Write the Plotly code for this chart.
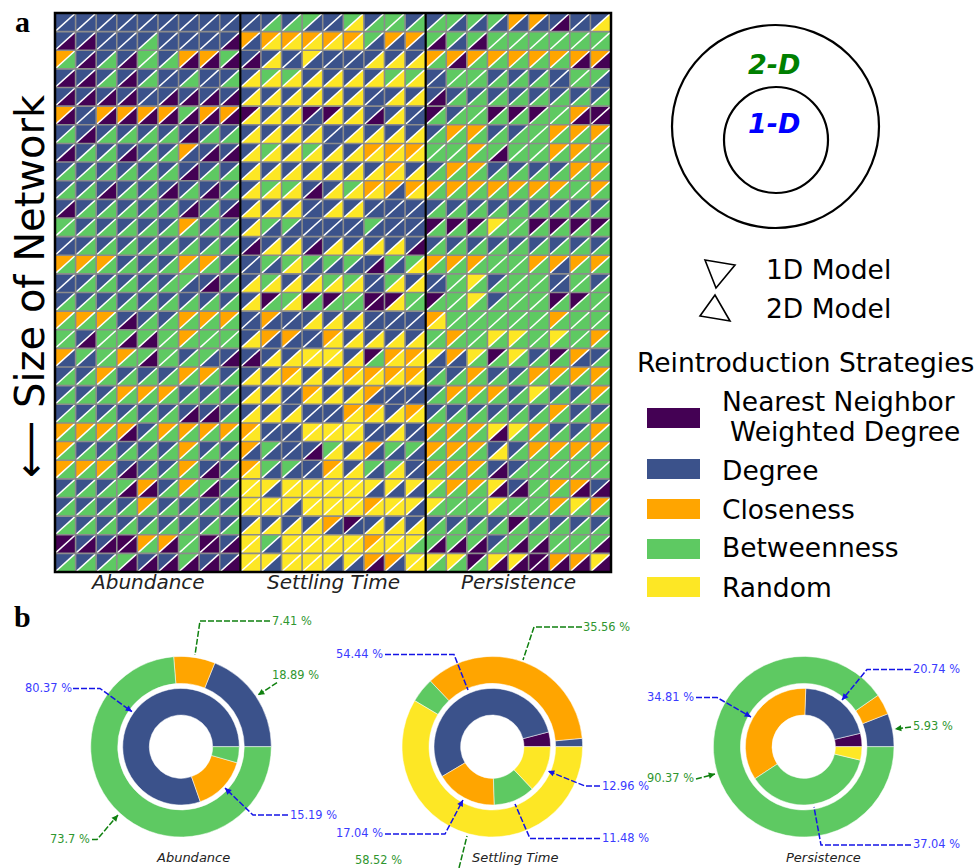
import plotly.graph_objects as go

W, H = 976, 868

# Strategy codes: N nearest neighbour weighted degree, D degree, C closeness, B betweenness, R random
strategy_names = ["Nearest Neighbor<br> Weighted Degree", "Degree", "Closeness", "Betweenness", "Random"]
strategy_codes = ["N", "D", "C", "B", "R"]
strategy_colors = {"N": "#440154", "D": "#3b528b", "C": "#ffa500", "B": "#5ec962", "R": "#fde725"}
panel_names = ["Abundance", "Settling Time", "Persistence"]

# Upper-left triangles (1D model), one string per network row, nine columns
abundance_1d = [
    "DDDDDDDDD", "DDDDDDDDD", "CDDDBDCCB", "DDDDDDDDD", "DDDDDDDDD", "CDCCCCBCC",
    "DDDDDDDDD", "DDDDDDCDD", "DDDDDDDDD", "DDDDDDDDD", "DDDDDDDDD", "BDDDDDCDD",
    "DDDDDDDDD", "CCCDDDCCD", "DDDDDDBDD", "DDDDDDDDD", "CCCDDDCCC", "BDBBBBCBB",
    "CBBCBBDBD", "DDCDDDCCD", "DDDCCCDDD", "DDDDDDDDD", "CCCCDCCCC", "CDDDDDCDD",
    "CCCDDDCDD", "DDDBCDCBD", "DDDDCDDDD", "DDDDDDDDD", "NDDNCCBND", "DDDBDDBDD",
]
# Lower-right triangles (2D model)
abundance_2d = [
    "DDDDDDDDD", "NNDDBDDDN", "BNBNBBNNN", "NNBNBDBDB", "NNNNDNNNN", "NDNNNNNNN",
    "BNBBBBNBB", "NBBNBBDNN", "BBBBBBNBB", "BBNBBNBNB", "NBBBBBNBN", "BBBBBBBBB",
    "DBBBBBBBB", "BBBBBBBBB", "DBBBBBDNB", "BBBBBBBBB", "BBBNBBBBB", "BNBNNBBBB",
    "DDBBNBBDN", "BBBBBBBBB", "BBBBBBBBB", "BBBBBBNNB", "BBBNBBBBB", "BBBBBBBBB",
    "BBBNBBBNB", "BBBNNBBNB", "BBBBBBBBB", "BBBBBBBBB", "NNNNBNBNN", "BBBNNNNNN",
]
settling_1d = [
    "DDDBDBDBD", "CCCCCCBCC", "DDDRDDDDD", "DBBDDDDBB", "DDDDDDDDD", "NDDNNDDDD",
    "DDDDDDDDD", "DBDBDDCCC", "DDDDDDDCD", "DBBDDBCCC", "DDDDDDDDD", "DBBDDDBDD",
    "DDDDDDDDD", "DBBBBBDBB", "DBDDBBDBD", "DNBNNBNNB", "DCDDDDDDD", "DCCDCDDDD",
    "DDDRRDNCC", "DDCDDCCCC", "DDDCDDCDD", "DDDDDCCDC", "CDDRRRDDD", "CBDDBDCBB",
    "CBBDCDBBD", "RRRRRRRRR", "RRRRRRCRR", "DDDDCNDDD", "RBRRRRCRR", "RRRRRRCCR",
]
settling_2d = [
    "DBBDDRBBB", "DRRRRRDDD", "NRDDDDRRR", "RRRRRRRRR", "RRRRRRDRR", "RRRDRRNRD",
    "RRRRDRRRR", "RRRRRRRRR", "RRRRRRRRR", "RRRNRRRDR", "RRRDRRDDD", "RDDDDDDDD",
    "NRRNRRRRN", "DDRDDDNDR", "RRRRRRDRR", "RBRBBBNRB", "DDDRRRDDD", "RDDDRRRRR",
    "NRRRRRBRR", "RRRRRRRRR", "RRDRRRDDD", "RRRDDRRRR", "RDDRRRDRD", "DDDNRRDDD",
    "RDDDRRDRD", "RDRRRRDDD", "RRDRRRRRD", "RRRRDDRRR", "RDRRRRRRB", "RDRRDDNDR",
]
persistence_1d = [
    "DBBBCCDDD", "BBBBBBBBB", "CCCCCCCCC", "DBBDDDDBB", "DDDDDDDDD", "NDBNNNBCN",
    "DCCDDBCCC", "BBCBBBCCB", "DCCDDDDCC", "CCCCCCCBC", "DDDDDDDDD", "NNNRBNNNN",
    "DDDDDDDDD", "CCCBBCCCC", "DBRDBBDBD", "NBRDBBNNB", "CBBBBBCBB", "BCBRRBRBC",
    "RCRNRDNCD", "DDCDDCCCC", "DCCCDRDDC", "DDDDDDCDD", "CCCRRCDDC", "CCCDDCCCC",
    "CCCDDBBBB", "RCCRDBCCD", "RBBRBBCRC", "DDDDNDDDD", "BBBDBBBBB", "RRNRRNCCR",
]
persistence_2d = [
    "BDDDDDNDR", "NDNBBBBBB", "BNBBBBBNN", "DBBBBBDBD", "NBBBBBBBB", "BBBBBBBNN",
    "BBBBBBBBB", "BBBNBBBBB", "BBBBBBBBB", "BBBBBBBBB", "BBBBBBBBB", "BBBBBBBBB",
    "BBBBBBBBB", "BBBBBBDBB", "DBBBBBDBB", "BBBBBBBBB", "RBBBBBBBB", "BBBBBBBBB",
    "DDBBBBBDB", "BBBBBBBBB", "BBBBBBBBB", "BBBBBBBBB", "BBBNBBBBB", "BBBRBBBBB",
    "BBBNBBBBB", "BBBNNBBNN", "BBBBBBBBB", "BBBBBBBBB", "NNNBNNBBN", "BBBNNNNNN",
]

# Doughnut shares, counter-clockwise from the positive x direction
abundance_inner_codes = ["D", "C", "B"]
abundance_inner = [80.37, 15.19, 4.44]
abundance_outer_codes = ["D", "C", "B"]
abundance_outer = [18.89, 7.41, 73.7]
settling_inner_codes = ["N", "D", "C", "B", "R"]
settling_inner = [4.08, 54.44, 17.04, 11.48, 12.96]
settling_outer_codes = ["D", "C", "B", "R"]
settling_outer = [1.48, 35.56, 4.44, 58.52]
persistence_inner_codes = ["N", "D", "C", "B", "R"]
persistence_inner = [3.7, 20.74, 34.81, 37.04, 3.71]
persistence_outer_codes = ["D", "C", "B"]
persistence_outer = [5.93, 3.7, 90.37]

rows_1d = [a + b + c for a, b, c in zip(abundance_1d, settling_1d, persistence_1d)]
rows_2d = [a + b + c for a, b, c in zip(abundance_2d, settling_2d, persistence_2d)]
n_rows, n_cols = len(rows_1d), len(rows_1d[0])


def px(x):
    return x / W


def py(y):
    return 1 - y / H


fig = go.Figure()

# triangles
for code in strategy_codes:
    xs, ys = [], []
    for r in range(n_rows):
        for c in range(n_cols):
            if rows_1d[r][c] == code:
                xs += [c, c + 1, c, c, None]
                ys += [r, r, r + 1, r, None]
            if rows_2d[r][c] == code:
                xs += [c + 1, c + 1, c, c + 1, None]
                ys += [r, r + 1, r + 1, r, None]
    fig.add_trace(go.Scatter(x=xs, y=ys, mode="lines", fill="toself", fillcolor=strategy_colors[code],
                             line=dict(width=0, color=strategy_colors[code]), hoverinfo="skip", showlegend=False))

# diagonals
dx, dy = [], []
for r in range(n_rows):
    for c in range(n_cols):
        dx += [c, c + 1, None]
        dy += [r + 1, r, None]
fig.add_trace(go.Scatter(x=dx, y=dy, mode="lines", line=dict(color="white", width=1.5),
                         hoverinfo="skip", showlegend=False))
# grid
gx, gy = [], []
for c in range(n_cols + 1):
    gx += [c, c, None]
    gy += [0, n_rows, None]
for r in range(n_rows + 1):
    gx += [0, n_cols, None]
    gy += [r, r, None]
fig.add_trace(go.Scatter(x=gx, y=gy, mode="lines", line=dict(color="#8c8c8c", width=1.6),
                         hoverinfo="skip", showlegend=False))
# panel separators
sx, sy = [], []
for c in (9, 18):
    sx += [c, c, None]
    sy += [0, n_rows, None]
fig.add_trace(go.Scatter(x=sx, y=sy, mode="lines", line=dict(color="black", width=2.2),
                         hoverinfo="skip", showlegend=False))

PX0, PX1, PY0, PY1 = 55, 611, 13, 572
shapes = [dict(type="rect", xref="paper", yref="paper", x0=px(PX0), x1=px(PX1), y0=py(PY1), y1=py(PY0),
               line=dict(color="black", width=2.5))]
annotations = []


def text(x, y, s, size, color="black", anchor="center", family="DejaVu Sans", angle=0):
    pad = {"left": -2.5, "right": 2.5, "center": 0}[anchor]
    annotations.append(dict(xref="paper", yref="paper", x=px(x + pad), y=py(y), text=s, showarrow=False,
                            xanchor=anchor, yanchor="middle", textangle=angle, align="left",
                            font=dict(size=size, color=color, family=family)))


def callout(label, side, lx, ly, points, color, txt_color):
    """Dashed leader that ends in an arrowhead at the last point."""
    text(lx, ly, label, 11.4, txt_color, side)
    path = "M " + " L ".join(f"{px(a)} {py(b)}" for a, b in points)
    shapes.append(dict(type="path", xref="paper", yref="paper", path=path,
                       line=dict(color=color, width=1.5, dash="6px,2px")))
    (x0, y0), (x1, y1) = points[-2], points[-1]
    length = max(((x1 - x0) ** 2 + (y1 - y0) ** 2) ** 0.5, 1)
    annotations.append(dict(xref="paper", yref="paper", x=px(x1), y=py(y1), text=" ", showarrow=True,
                            ax=(x0 - x1) / length * 9, ay=(y0 - y1) / length * 9, arrowhead=2,
                            arrowsize=0.9, arrowwidth=1.4, arrowcolor=color))


# doughnuts
R_OUT, R_OUT_IN, R_IN, R_HOLE = 90.3, 63.3, 58.3, 31.7
donuts = [
    (181, 746.7, abundance_inner_codes, abundance_inner, abundance_outer_codes, abundance_outer),
    (492.3, 746.7, settling_inner_codes, settling_inner, settling_outer_codes, settling_outer),
    (803.7, 746.7, persistence_inner_codes, persistence_inner, persistence_outer_codes, persistence_outer),
]
for cx, cy, ic, iv, oc, ov in donuts:
    for codes, vals, r, hole in ((oc, ov, R_OUT, R_OUT_IN / R_OUT), (ic, iv, R_IN, R_HOLE / R_IN)):
        # With a counter-clockwise direction Plotly ends the first slice at `rotation`
        start = 90 - 360 * vals[0] / sum(vals)
        fig.add_trace(go.Pie(values=vals, labels=codes, sort=False, direction="counterclockwise", rotation=start,
                             hole=hole, textinfo="none", hoverinfo="skip", showlegend=False,
                             marker=dict(colors=[strategy_colors[k] for k in codes],
                                         line=dict(color="white", width=0.5)),
                             domain=dict(x=[px(cx - r), px(cx + r)], y=[py(cy + r), py(cy - r)])))

BLUE, BLUE_T = "#1414e6", "#3a3aff"
GREEN, GREEN_T = "#0f800f", "#2f962f"
callout("7.41 %", "left", 272, 621, [(270, 621), (200, 621), (195, 655)], GREEN, GREEN_T)
callout("18.89 %", "left", 272, 675, [(277, 682.7), (258, 695)], GREEN, GREEN_T)
callout("80.37 %", "right", 71, 688, [(73, 688.5), (100, 688.5), (132, 711.7)], BLUE, BLUE_T)
callout("15.19 %", "left", 290, 815, [(288, 815), (253, 815), (225, 788)], BLUE, BLUE_T)
callout("73.7 %", "right", 89, 839, [(92, 839.5), (97, 839.5), (118, 815)], GREEN, GREEN_T)
callout("35.56 %", "left", 583, 627, [(582, 627), (534, 627), (523, 660)], GREEN, GREEN_T)
callout("54.44 %", "right", 382, 654, [(385, 654.5), (454, 654.5), (468, 690)], BLUE, BLUE_T)
callout("12.96 %", "left", 602, 786, [(600, 786), (585, 786), (548, 771)], BLUE, BLUE_T)
callout("11.48 %", "left", 602, 838, [(600, 838.5), (530, 838.5), (515, 804)], BLUE, BLUE_T)
callout("17.04 %", "right", 382, 833, [(385, 834), (445, 834), (463, 800)], BLUE, BLUE_T)
callout("58.52 %", "left", 355, 860, [(459, 868), (467, 836)], GREEN, GREEN_T)
callout("20.74 %", "left", 913, 669, [(911, 669.5), (867, 669.5), (842, 700)], BLUE, BLUE_T)
callout("34.81 %", "right", 693, 697, [(696, 697.5), (717, 697.5), (751, 717)], BLUE, BLUE_T)
callout("5.93 %", "left", 913, 726, [(911, 727), (895, 729)], GREEN, GREEN_T)
callout("90.37 %", "right", 693, 778, [(696, 779), (715, 774)], GREEN, GREEN_T)
callout("37.04 %", "left", 913, 844, [(911, 845), (821, 845), (814, 807)], BLUE, BLUE_T)

for name, x in zip(panel_names, (193, 515, 823)):
    text(x, 857, f"<i>{name}</i>", 13, "#222222")
for name, x in zip(panel_names, (147, 333, 518)):
    text(x, 582, f"<i>{name}</i>", 20, "#222222")

text(22, 22, "<b>a</b>", 30, "black", family="Liberation Serif")
text(22, 616, "<b>b</b>", 30, "black", family="Liberation Serif")
text(30, 286, "\u27f5 Size of Network", 40, "black", angle=-90)

# nested-circle key
shapes.append(dict(type="circle", xref="paper", yref="paper", x0=px(672), x1=px(879), y0=py(228), y1=py(25),
                   line=dict(color="black", width=2.2)))
shapes.append(dict(type="circle", xref="paper", yref="paper", x0=px(724), x1=px(828), y0=py(193), y1=py(87),
                   line=dict(color="black", width=2.2)))
text(774, 64, "<b><i>2-D</i></b>", 27, "green")
text(774, 124, "<b><i>1-D</i></b>", 27, "blue")

# triangle key
for tri in ([(705, 260), (735, 265), (716, 288)], [(715, 295), (700, 316), (730, 321)]):
    path = "M " + " L ".join(f"{px(a)} {py(b)}" for a, b in tri) + " Z"
    shapes.append(dict(type="path", xref="paper", yref="paper", path=path, line=dict(color="black", width=1.6)))
text(766, 269, "1D Model", 26.5, anchor="left")
text(766, 308, "2D Model", 26.5, anchor="left")

# strategy key
text(637, 362, "Reintroduction Strategies", 26.5, anchor="left")
for name, code, yc, yt in zip(strategy_names, strategy_codes,
                              (418, 469, 509, 549, 587), (401, 470, 509, 547, 587)):
    shapes.append(dict(type="rect", xref="paper", yref="paper", x0=px(647), x1=px(700), y0=py(yc + 10), y1=py(yc - 10),
                       fillcolor=strategy_colors[code], line=dict(width=0)))
    for i, part in enumerate(name.split("<br>")):
        text(722 + (8 if i else 0), yt + 30 * i, part.strip(), 26.5, anchor="left")

fig.update_layout(
    width=W, height=H, autosize=False, margin=dict(l=0, r=0, t=0, b=0),
    paper_bgcolor="white", plot_bgcolor="white", showlegend=False,
    xaxis=dict(domain=[px(PX0), px(PX1)], range=[0, n_cols], visible=False, fixedrange=True),
    yaxis=dict(domain=[py(PY1), py(PY0)], range=[n_rows, 0], visible=False, fixedrange=True),
    shapes=shapes, annotations=annotations,
)
fig.write_html("out.html", config=dict(displayModeBar=False),
               post_script="document.body.style.margin='0';document.body.style.overflow='hidden';")
